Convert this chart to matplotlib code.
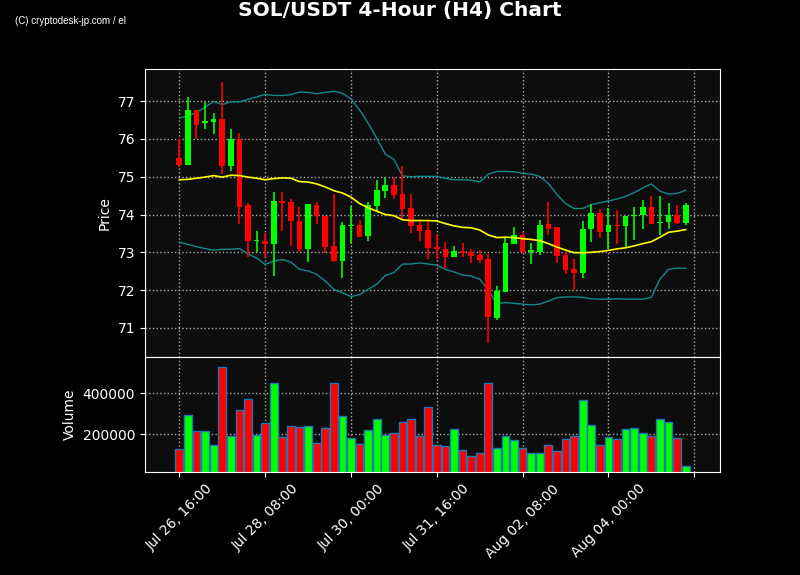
import numpy as np
import pandas as pd
import matplotlib
matplotlib.use('Agg')
import matplotlib.pyplot as plt

# 4-hour candles
times = pd.date_range('2024-07-26 16:00', periods=60, freq='4h')

opens = [75.50, 75.32, 76.77, 76.41, 76.46, 76.53, 75.28, 76.00, 74.24, 73.30,
         73.31, 73.21, 74.37, 74.34, 73.84, 73.08, 74.26, 73.97, 73.16, 72.77,
         73.69, 73.73, 73.43, 74.22, 74.63, 74.78, 74.53, 74.16, 73.71, 73.58,
         73.13, 73.10, 72.88, 73.04, 73.00, 72.92, 72.81, 71.27, 71.95, 73.22,
         73.47, 73.00, 73.02, 73.74, 73.66, 72.92, 72.55, 72.45, 73.61, 74.05,
         73.55, 73.72, 73.69, 73.96, 73.98, 74.21, 73.77, 73.80, 74.00, 73.78]
closes = [75.32, 76.77, 76.38, 76.48, 76.52, 75.28, 76.00, 74.19, 73.30, 73.32,
          73.21, 74.37, 74.31, 73.82, 73.08, 74.29, 73.96, 73.14, 72.77, 73.71,
          73.73, 73.40, 74.24, 74.66, 74.78, 74.51, 74.14, 73.69, 73.56, 73.11,
          73.09, 72.88, 73.04, 72.99, 72.90, 72.79, 71.29, 71.97, 73.24, 73.47,
          73.00, 73.05, 73.73, 73.63, 72.90, 72.53, 72.45, 73.63, 74.03, 73.55,
          73.71, 73.69, 73.97, 74.00, 74.21, 73.75, 73.79, 74.00, 73.78, 74.24]
highs = [76.01, 77.11, 76.77, 76.99, 76.68, 77.50, 76.26, 76.16, 74.31, 73.56,
         73.52, 74.60, 74.60, 74.41, 74.21, 74.29, 74.33, 73.97, 74.55, 73.81,
         74.22, 73.86, 74.34, 74.92, 74.99, 74.99, 75.28, 74.55, 73.81, 73.81,
         73.49, 73.26, 73.17, 73.24, 73.09, 73.06, 72.96, 72.11, 73.40, 73.68,
         73.53, 73.25, 73.86, 74.34, 73.66, 73.02, 72.83, 73.82, 74.28, 74.14,
         74.16, 74.12, 73.97, 74.21, 74.39, 74.48, 74.50, 74.31, 74.24, 74.31]
lows = [75.26, 75.31, 76.00, 76.26, 76.13, 75.06, 75.16, 73.75, 72.88, 73.00,
        72.88, 72.37, 73.56, 73.17, 73.00, 72.75, 73.74, 72.99, 72.74, 72.33,
        73.23, 73.40, 73.30, 74.09, 74.44, 74.41, 73.87, 73.52, 73.31, 72.81,
        72.81, 72.58, 72.88, 72.88, 72.71, 72.71, 70.61, 71.22, 71.95, 73.22,
        72.99, 72.68, 72.94, 73.46, 72.71, 72.43, 72.00, 72.33, 73.26, 73.38,
        73.08, 73.23, 73.14, 73.33, 73.62, 73.75, 73.46, 73.62, 73.75, 73.72]
volumes = [126800, 292700, 214600, 214600, 146300, 526800, 190200, 317000, 370700, 193500,
           253700, 448800, 185400, 239000, 234100, 239000, 157700, 229300, 448800, 287800,
           180500, 151200, 219500, 273200, 195100, 204900, 258500, 273200, 190200, 331700,
           146300, 141500, 224400, 122000, 92700, 107300, 448800, 131700, 190200, 170700,
           131700, 107300, 107300, 146300, 117100, 175600, 190200, 365900, 243900, 146300,
           185400, 175600, 224400, 229300, 204900, 190200, 273200, 258500, 180500, 43900]

sma = [74.92, 74.93, 74.96, 74.99, 75.03, 74.99, 75.04, 75.03, 74.99, 74.96,
       74.92, 74.95, 74.97, 74.96, 74.87, 74.86, 74.81, 74.73, 74.63, 74.57,
       74.46, 74.29, 74.18, 74.09, 74.00, 73.97, 73.86, 73.84, 73.84, 73.84,
       73.83, 73.76, 73.70, 73.66, 73.65, 73.59, 73.46, 73.39, 73.40, 73.39,
       73.36, 73.34, 73.31, 73.23, 73.14, 73.06, 72.99, 72.99, 73.00, 73.02,
       73.05, 73.09, 73.12, 73.17, 73.23, 73.28, 73.40, 73.53, 73.56, 73.60]
upper = [76.55, 76.61, 76.70, 76.84, 76.99, 76.91, 76.98, 76.98, 77.05, 77.11,
         77.18, 77.15, 77.15, 77.17, 77.24, 77.23, 77.20, 77.23, 77.26, 77.21,
         77.06, 76.77, 76.42, 76.02, 75.60, 75.46, 75.02, 75.00, 75.01, 75.01,
         75.01, 74.96, 74.92, 74.92, 74.91, 74.86, 75.07, 75.14, 75.14, 75.13,
         75.09, 75.07, 75.01, 74.82, 74.53, 74.29, 74.16, 74.16, 74.26, 74.31,
         74.36, 74.41, 74.48, 74.58, 74.70, 74.81, 74.62, 74.54, 74.56, 74.64]
lower = [73.27, 73.21, 73.15, 73.10, 73.06, 73.08, 73.08, 73.10, 72.96, 72.85,
         72.68, 72.77, 72.81, 72.74, 72.55, 72.51, 72.42, 72.24, 72.02, 71.93,
         71.83, 71.88, 72.02, 72.15, 72.39, 72.46, 72.69, 72.69, 72.72, 72.69,
         72.66, 72.55, 72.48, 72.40, 72.37, 72.29, 72.00, 71.64, 71.67, 71.65,
         71.63, 71.61, 71.63, 71.71, 71.80, 71.82, 71.82, 71.81, 71.77, 71.76,
         71.76, 71.77, 71.76, 71.76, 71.76, 71.81, 72.29, 72.55, 72.58, 72.58]

df = pd.DataFrame({'open': opens, 'close': closes, 'high': highs, 'low': lows,
                   'volume': volumes, 'sma': sma, 'upper': upper, 'lower': lower},
                  index=times)

x = np.arange(len(df))
up = df['close'] >= df['open']
colors = np.where(up, '#00ff00', '#ff0000')

fig = plt.figure(figsize=(8, 5.75), dpi=100, facecolor='black')
ax = fig.add_axes([0.18125, 0.3791, 0.71875, 0.5009])
axv = fig.add_axes([0.18125, 0.1791, 0.71875, 0.2], sharex=ax)

for a in (ax, axv):
    a.set_facecolor('#0d0d0d')
    a.grid(True, color='#aaaaaa', linestyle=':', linewidth=1)
    a.set_axisbelow(True)
    for s in a.spines.values():
        s.set_color('white')
    a.tick_params(colors='white', labelsize=10)

# candles: wicks then bodies
ax.vlines(x, df['low'], df['high'], colors=colors, linewidth=1.2, zorder=2)
body = (df['close'] - df['open']).abs().clip(lower=0.03)
bottom = df[['open', 'close']].min(axis=1)
ax.bar(x, body, bottom=bottom, width=0.66, color=colors, zorder=3)

ax.plot(x, df['upper'], color='#108a8a', linewidth=1, zorder=1)
ax.plot(x, df['lower'], color='#108a8a', linewidth=1, zorder=1)
ax.plot(x, df['sma'], color='yellow', linewidth=1.2, zorder=4)

ax.set_ylim(70.23, 77.85)
ax.set_yticks([71, 72, 73, 74, 75, 76, 77])
ax.set_ylabel('Price', color='white', fontsize=10)
ax.tick_params(axis='x', bottom=False, labelbottom=False)

# volume
axv.bar(x, df['volume'], width=0.9, color=colors, edgecolor='#1f77b4', linewidth=1)
axv.set_ylim(15000, 577000)
axv.set_yticks([200000, 400000])
axv.set_yticklabels(['200000', '400000'])
axv.set_ylabel('Volume', color='white', fontsize=10)

ticks = list(range(0, 61, 10))
labels = [times[t].strftime('%b %d, %H:%M') if t < len(times) else '' for t in ticks]
axv.set_xticks(ticks)
axv.set_xticklabels(labels, rotation=45, ha='center')
axv.set_xlim(-4, 63)

fig.suptitle('SOL/USDT 4-Hour (H4) Chart', color='white', fontsize=14.5,
             fontweight='bold', y=0.9825, va='center')
fig.text(0.019, 0.9635, '(C) cryptodesk-jp.com / el', color='white', fontsize=7,
         family='Liberation Sans', va='center')

fig.savefig('out.png', dpi=100, facecolor='black')
